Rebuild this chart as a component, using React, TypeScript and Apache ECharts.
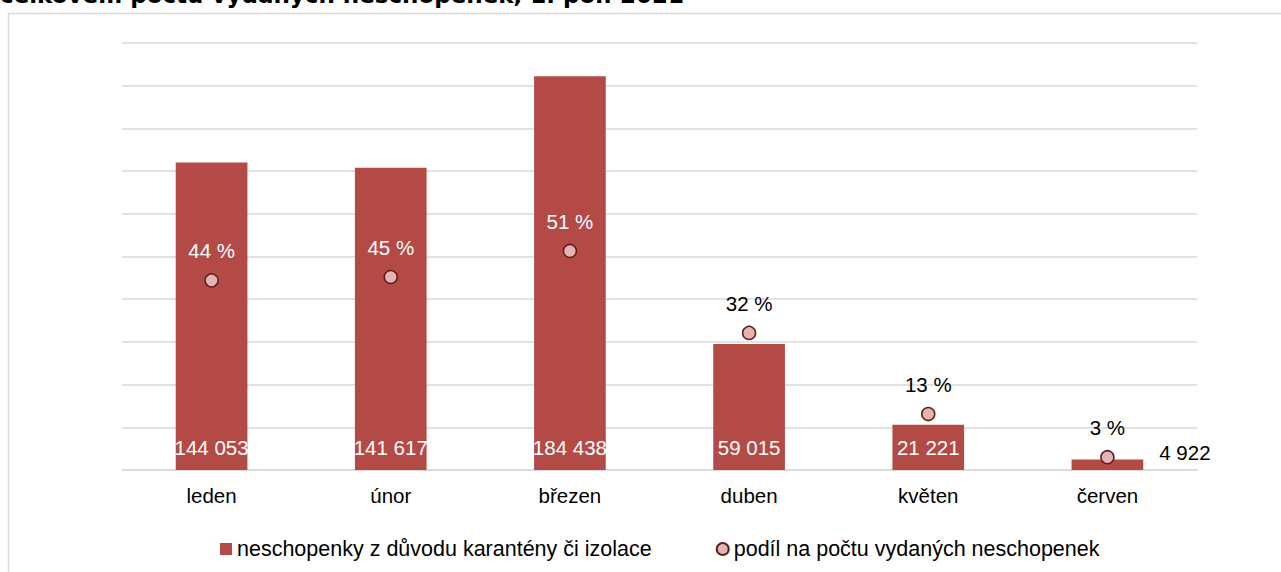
import React, { useEffect, useRef } from "react";
import * as echarts from "echarts";

const titleText = "celkovém počtu vydaných neschopenek, 1. pol. 2021";
const categories = ["leden", "únor", "březen", "duben", "květen", "červen"];
const barValues = [144053, 141617, 184438, 59015, 21221, 4922];
const shareValues = [44.4, 45.2, 51.3, 32.1, 13.1, 3.0];
const barName = "neschopenky z důvodu karantény či izolace";
const shareName = "podíl na počtu vydaných neschopenek";

const fmtNum = (v: number) => String(v).replace(/\B(?=(\d{3})+(?!\d))/g, " ");

export default function App() {
  const ref = useRef<HTMLDivElement>(null);
  useEffect(() => {
    if (!ref.current) return;
    const chart = echarts.init(ref.current, null, { renderer: "svg" });
    const font = "Liberation Sans, Arial, sans-serif";
    chart.setOption({
      animation: false,
      textStyle: { fontFamily: font },
      graphic: [
        {
          type: "rect",
          shape: { x: 8.5, y: 13.5, width: 1400, height: 700 },
          style: { fill: "none", stroke: "#d9d9d9", lineWidth: 1.5 },
          silent: true,
        },
        {
          type: "text",
          left: 0,
          top: -17,
          style: {
            text: titleText,
            fontFamily: "DejaVu Sans, sans-serif",
            fontWeight: "bold",
            fontSize: 23,
            fill: "#000",
          },
        },
      ],
      legend: {
        left: 215,
        top: 533,
        itemWidth: 12,
        itemHeight: 12,
        itemGap: 64,
        textStyle: { fontSize: 21.5, color: "#000", fontFamily: font },
        data: [
          { name: barName, icon: "rect" },
          { name: shareName, icon: "circle" },
        ],
      },
      grid: { left: 122, right: 84, top: 43, bottom: 102 },
      xAxis: {
        type: "category",
        data: categories,
        axisLine: { lineStyle: { color: "#d9d9d9", width: 1.5 } },
        axisTick: { show: false },
        axisLabel: { color: "#000", fontSize: 20.5, margin: 15, fontFamily: font },
      },
      yAxis: [
        {
          type: "value",
          min: 0,
          max: 200000,
          interval: 20000,
          axisLabel: { show: false },
          axisLine: { show: false },
          splitLine: { lineStyle: { color: "#d9d9d9", width: 1.5 } },
        },
        {
          type: "value",
          min: 0,
          max: 100,
          axisLabel: { show: false },
          axisLine: { show: false },
          splitLine: { show: false },
        },
      ],
      series: [
        {
          name: barName,
          type: "bar",
          barWidth: "40%",
          itemStyle: { color: "#b44a46" },
          data: barValues.map((v, i) => ({
            value: v,
            label:
              i === barValues.length - 1
                ? { position: "right", distance: 16, offset: [0, -12], color: "#000" }
                : undefined,
          })),
          label: {
            show: true,
            position: "insideBottom",
            distance: 12,
            color: "#fff",
            fontSize: 20.5,
            fontFamily: font,
            formatter: (p: any) => fmtNum(p.value),
          },
        },
        {
          name: shareName,
          type: "scatter",
          yAxisIndex: 1,
          symbol: "circle",
          symbolSize: 13,
          itemStyle: { color: "#e6b3b3", borderColor: "#5c1f1f", borderWidth: 1.5, opacity: 1 },
          data: shareValues.map((v, i) => ({
            value: v,
            label: { color: i < 3 ? "#fff" : "#000" },
          })),
          label: {
            show: true,
            position: "top",
            distance: 12,
            fontSize: 20.5,
            fontFamily: font,
            formatter: (p: any) => Math.round(p.value) + " %",
          },
        },
      ],
    });
    return () => chart.dispose();
  }, []);
  return (
    <div style={{ position: "absolute", left: 0, top: 0, width: 1281, height: 572, overflow: "hidden", background: "#fff" }}>
      <div ref={ref} style={{ width: 1281, height: 572 }} />
    </div>
  );
}
